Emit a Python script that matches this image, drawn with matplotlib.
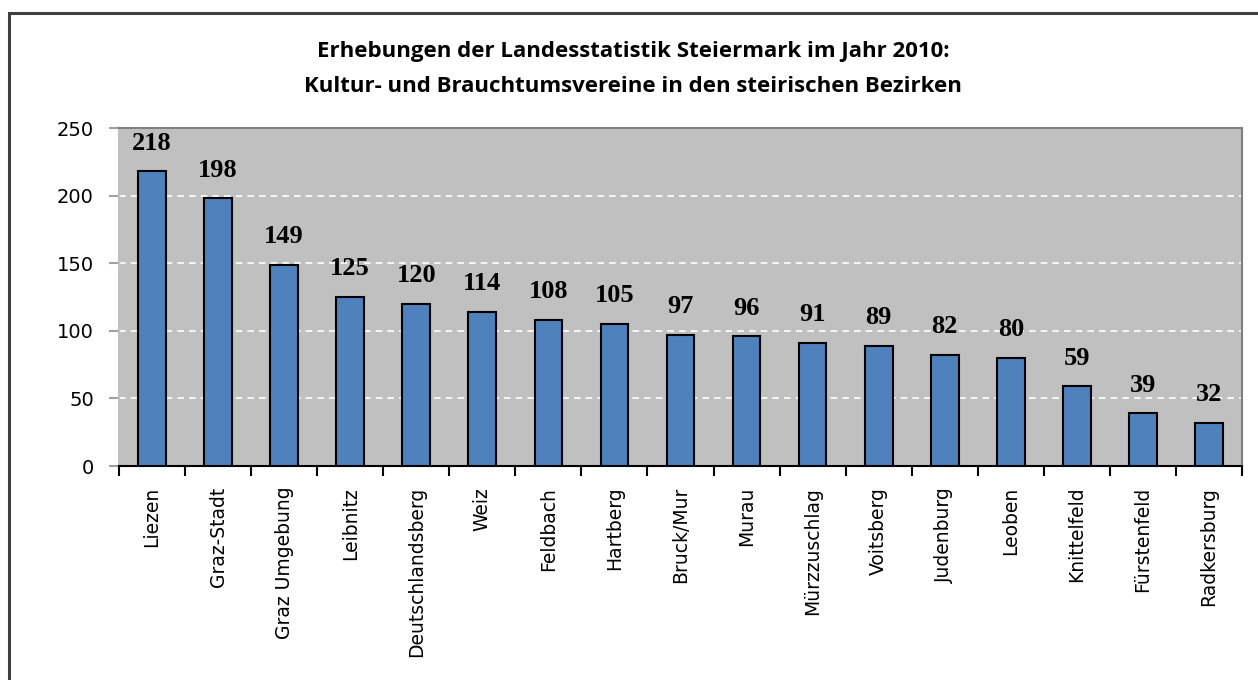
import numpy as np
import matplotlib.pyplot as plt
from matplotlib.patches import Rectangle

bezirke = ['Liezen', 'Graz-Stadt', 'Graz Umgebung', 'Leibnitz', 'Deutschlandsberg',
           'Weiz', 'Feldbach', 'Hartberg', 'Bruck/Mur', 'Murau', 'Mürzzuschlag',
           'Voitsberg', 'Judenburg', 'Leoben', 'Knittelfeld', 'Fürstenfeld', 'Radkersburg']
vereine = [218, 198, 149, 125, 120, 114, 108, 105, 97, 96, 91, 89, 82, 80, 59, 39, 32]
yticks = [0, 50, 100, 150, 200, 250]

fig = plt.figure(figsize=(12.58, 6.80), dpi=100)
ax = fig.add_axes([119/1258, 1 - 466/680, (1242 - 119)/1258, (466 - 128)/680])

# outer chart frame (runs off the right and bottom edge)
fig.patches.append(Rectangle((9/1258, -0.1), 1.2, 1 - 13/680 + 0.1, transform=fig.transFigure,
                             fill=False, edgecolor='#404040', linewidth=2.2))

x = np.arange(len(bezirke))
ax.set_facecolor('#C0C0C0')
ax.bar(x, vereine, width=0.42, color='#4F81BD', edgecolor='black', linewidth=1.5, zorder=3)
for xi, v in zip(x, vereine):
    ax.annotate(str(v), (xi, v), xytext=(0, 12), textcoords='offset points',
                ha='center', va='bottom', fontsize=19, fontweight='bold',
                family='Liberation Serif', zorder=4)

ax.set_xlim(-0.5, len(bezirke) - 0.5)
ax.set_ylim(0, 250)
ax.set_yticks(yticks)
ax.set_yticklabels([str(t) for t in yticks], fontsize=14)
for t in yticks[1:-1]:
    ax.axhline(t, color='white', linestyle=(0, (4, 3)), linewidth=1.2, zorder=1)

ax.set_xticks(x)
ax.set_xticklabels(bezirke, rotation=90, fontsize=13.5)
ax.set_xticks(np.arange(len(bezirke) + 1) - 0.5, minor=True)
ax.tick_params(axis='x', which='major', length=0, pad=15)
ax.tick_params(axis='x', which='minor', length=7, width=1.5, color='black', direction='out')
ax.tick_params(axis='y', length=7, width=1.5, color='#A0A0A0', pad=11)

for s in ['top', 'right', 'left']:
    ax.spines[s].set_color('#808080')
    ax.spines[s].set_linewidth(1.5)
ax.spines['left'].set_color('#C0C0C0')
ax.spines['bottom'].set_color('black')
ax.spines['bottom'].set_linewidth(1.5)

fig.text(633/1258, 1 - 52/680, 'Erhebungen der Landesstatistik Steiermark im Jahr 2010:',
         ha='center', va='center', fontsize=16, fontweight='bold', family='Open Sans')
fig.text(633/1258, 1 - 87/680, 'Kultur- und Brauchtumsvereine in den steirischen Bezirken',
         ha='center', va='center', fontsize=16, fontweight='bold', family='Open Sans')

fig.savefig('out.png', dpi=100)
